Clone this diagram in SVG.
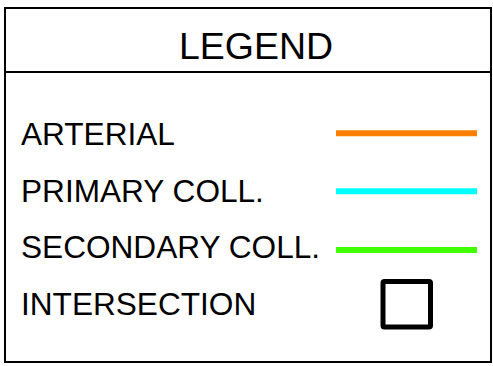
<svg xmlns="http://www.w3.org/2000/svg" width="493" height="366" viewBox="0 0 493 366">
<style>
.t{font-family:"Liberation Sans",Arial,sans-serif;fill:#000}
.lbl{font-size:31.6px}
.sw{stroke-width:6;fill:none}
</style>
<rect x="0" y="0" width="493" height="366" fill="#fff"/>
<g id="legend-frame">
<rect x="5" y="8" width="486" height="354" fill="none" stroke="#000" stroke-width="2"/>
<line x1="5" y1="72" x2="491" y2="72" stroke="#000" stroke-width="2"/>
</g>
<g id="title"><text class="t" x="256" y="59" font-size="37.5" text-anchor="middle">LEGEND</text></g>
<g id="arterial">
<text class="t lbl" x="21" y="145">ARTERIAL</text>
<line class="sw" x1="336" y1="133.3" x2="477" y2="133.3" stroke="#ff7f00"/>
</g>
<g id="primary">
<text class="t lbl" x="21" y="201.7">PRIMARY COLL.</text>
<line class="sw" x1="336" y1="191.3" x2="477" y2="191.3" stroke="#00ffff"/>
</g>
<g id="secondary">
<text class="t lbl" x="21" y="258.3">SECONDARY COLL.</text>
<line class="sw" x1="336" y1="250" x2="477" y2="250" stroke="#40ff00"/>
</g>
<g id="intersection">
<text class="t lbl" x="21" y="315">INTERSECTION</text>
<rect x="383" y="281.5" width="47.5" height="45.5" rx="1.5" fill="none" stroke="#000" stroke-width="5"/>
</g>
</svg>
